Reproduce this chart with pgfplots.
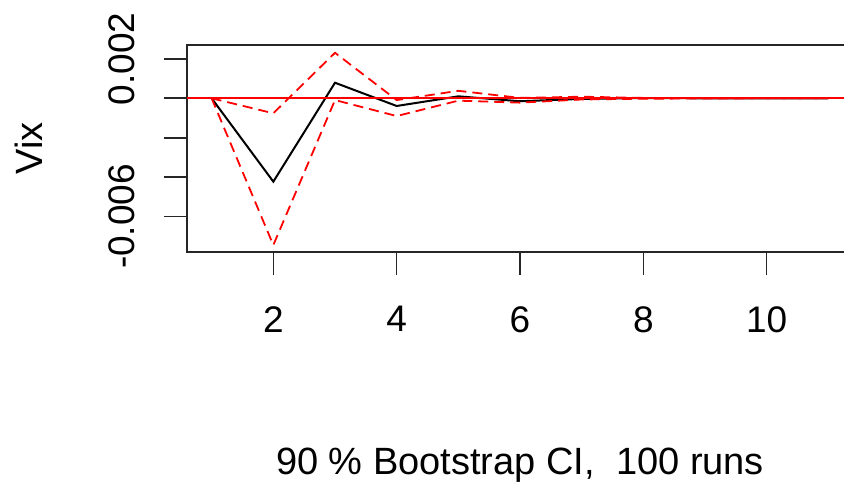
\documentclass[border=0pt]{standalone}
\usepackage{fontspec}
\setmainfont{Liberation Sans}
\usepackage{pgfplots}
\usepackage{pgfplotstable}
\pgfplotsset{compat=1.18}
\pgfplotstableread{
x  irf       upper     lower
1  0         0         0
2  -0.00423  -0.00076  -0.00745
3  0.00079   0.00231   -0.00009
4  -0.00039  -0.00009  -0.00090
5  0.00010   0.00038   -0.00012
6  -0.00015  0.00002   -0.00022
7  -0.00003  0.00008   -0.00006
8  0.00001   0.00002   -0.00002
9  0         0.00001   -0.00001
10 0         0         0
11 0         0         0
}\irfdata
\begin{document}
\begin{tikzpicture}
\begin{axis}[
  at={(0,0)}, anchor=south west,
  scale only axis, width=333pt, height=103.65pt,
  xmin=0.6, xmax=11.4, ymin=-0.0078, ymax=0.00272,
  axis line style={black!85, line width=0.8pt},
  tick style={black!85, line width=0.8pt},
  tick align=outside, major tick length=11.5pt,
  xtick={2,4,6,8,10}, xticklabels={2,4,6,8,10},
  ytick={-0.006,-0.004,-0.002,0,0.002}, yticklabels={-0.006,{},{},{},0.002},
  xtick pos=bottom, ytick pos=left,
  scaled y ticks=false, scaled x ticks=false,
  ticklabel style={font=\fontsize{18.5}{22}\selectfont, inner sep=0pt},
  xticklabel style={anchor=north},
  yticklabel style={rotate=90, anchor=south},
  xticklabel shift=15.5pt,
  yticklabel shift=14.5pt,
  xlabel={90 \% Bootstrap CI,~~100 runs},
  ylabel={Vix},
  xlabel style={at={(rel axis cs:0.5,-1.0709)}, anchor=base, font=\fontsize{19}{22}\selectfont, inner sep=0pt},
  ylabel style={at={(rel axis cs:-0.2372,0.5)}, anchor=center, font=\fontsize{19}{22}\selectfont, inner sep=0pt},
  clip=true,
]
\addplot[black, line width=1pt] table[x=x, y=irf] {\irfdata};
\addplot[red, line width=1pt] coordinates {(0.6,0) (11.4,0)};
\addplot[red, line width=0.9pt, dash pattern=on 5pt off 3pt] table[x=x, y=upper] {\irfdata};
\addplot[red, line width=0.9pt, dash pattern=on 5pt off 3pt] table[x=x, y=lower] {\irfdata};
\end{axis}
\pgfresetboundingbox
\useasboundingbox (-93.5pt,-114.5pt) rectangle (328.5pt,126pt);
\end{tikzpicture}
\end{document}
